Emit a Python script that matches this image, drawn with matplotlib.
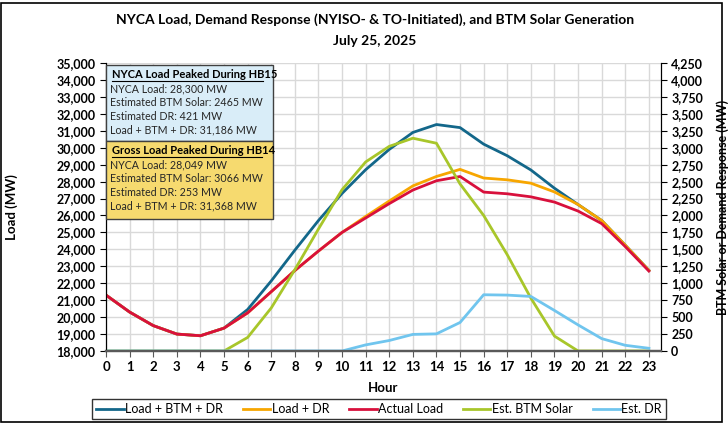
import matplotlib.pyplot as plt
import matplotlib.ticker as mticker
from matplotlib.patches import Rectangle
import numpy as np

plt.rcParams['font.family'] = ['Lato', 'DejaVu Sans']

hours = list(range(24))
actual_load = [21300, 20300, 19500, 19000, 18900, 19350, 20250, 21500, 22750, 23900, 25000, 25850,
               26700, 27500, 28049, 28300, 27380, 27280, 27100, 26790, 26260, 25520, 24160, 22720]
load_dr = [21300, 20300, 19500, 19000, 18900, 19350, 20250, 21500, 22750, 23900, 25000, 25940,
           26855, 27745, 28302, 28721, 28210, 28105, 27905, 27388, 26645, 25703, 24244, 22760]
load_btm_dr = [21300, 20300, 19500, 19000, 18900, 19350, 20450, 22135, 23950, 25700, 27300, 28700,
               29900, 30900, 31368, 31186, 30210, 29525, 28685, 27608, 26645, 25703, 24244, 22760]
btm_solar = [0, 0, 0, 0, 0, 0, 200, 635, 1200, 1800, 2380, 2790,
             3020, 3140, 3066, 2465, 2000, 1420, 780, 220, 0, 0, 0, 0]
est_dr = [0, 0, 0, 0, 0, 0, 0, 0, 0, 0, 0, 90,
          155, 245, 253, 421, 830, 825, 805, 598, 385, 183, 84, 40]

box1_title = 'NYCA Load Peaked During HB15'
box1_lines = ['NYCA Load: 28,300 MW', 'Estimated BTM Solar: 2465 MW',
              'Estimated DR: 421 MW', 'Load + BTM + DR: 31,186 MW']
box2_title = 'Gross Load Peaked During HB14'
box2_lines = ['NYCA Load: 28,049 MW', 'Estimated BTM Solar: 3066 MW',
              'Estimated DR: 253 MW', 'Load + BTM + DR: 31,368 MW']

c_blue = '#13678A'
c_orange = '#F7A600'
c_red = '#D8103C'
c_green = '#A8C62A'
c_light = '#70C5EE'

fig = plt.figure(figsize=(7.28, 4.23), dpi=100)
ax = fig.add_axes([106/728, 1-351/423, (660.7-106)/728, (351-63)/423])
ax2 = ax.twinx()

ax.plot(hours, load_btm_dr, color=c_blue, lw=2, label='Load + BTM + DR', zorder=3)
ax.plot(hours, load_dr, color=c_orange, lw=2, label='Load + DR', zorder=3)
ax.plot(hours, actual_load, color=c_red, lw=2, label='Actual Load', zorder=4)
ax2.plot(hours, btm_solar, color=c_green, lw=2, label='Est. BTM Solar')
ax2.plot(hours, est_dr, color=c_light, lw=2, label='Est. DR')

ax.set_xlim(0, 23.5)
ax.set_ylim(18000, 35000)
ax2.set_ylim(0, 4250)
ax.set_xticks(hours)
ax.set_yticks(np.arange(18000, 35001, 1000))
ax2.set_yticks(np.arange(0, 4251, 250))
ax.yaxis.set_major_formatter(mticker.StrMethodFormatter('{x:,.0f}'))
ax2.yaxis.set_major_formatter(mticker.StrMethodFormatter('{x:,.0f}'))

ax.grid(True, color='#D9D9D9', lw=1)
ax.set_axisbelow(True)
for a in (ax, ax2):
    a.spines['top'].set_visible(False)
    a.spines['left'].set_color('black')
    a.spines['right'].set_color('black')
    a.spines['bottom'].set_color('#595959')
    a.spines['bottom'].set_linewidth(1.6)
ax.tick_params(axis='y', labelsize=9, length=4, direction='out', colors='black')
ax2.tick_params(axis='y', labelsize=9, length=4, direction='out', colors='black')
ax.tick_params(axis='x', labelsize=9.5, length=4, direction='out', color='#595959')
for lab in ax.get_xticklabels() + ax.get_yticklabels() + ax2.get_yticklabels():
    lab.set_fontweight('bold')

ax.set_xlabel('Hour', fontsize=9.5, fontweight='bold', labelpad=6)
ax.set_ylabel('Load (MW)', fontsize=9.5, fontweight='bold')
ax.yaxis.set_label_coords(-0.158, 0.5)
ax2.set_ylabel('BTM Solar or Demand Response (MW)', fontsize=9, fontweight='bold', rotation=90)
ax2.yaxis.set_label_coords(1.1, 0.5)

fig.text(375/728, 1-20/423, 'NYCA Load, Demand Response (NYISO- & TO-Initiated), and BTM Solar Generation',
         ha='center', va='center', fontsize=10, fontweight='bold')
fig.text(375/728, 1-41/423, 'July 25, 2025', ha='center', va='center', fontsize=10, fontweight='bold')


def info_box(y_top, y_bot, color, title, lines):
    x0, x1 = 106/728, 273/728
    fig.patches.append(Rectangle((x0, 1-y_bot/423), x1-x0, (y_bot-y_top)/423,
                                 transform=fig.transFigure, facecolor=color,
                                 edgecolor='#404040', lw=1, zorder=5))
    fig.text(x0 + 6/728, 1-(y_top+10)/423, title, fontsize=8, fontweight='bold',
             va='center', zorder=6)
    for i, t in enumerate(lines):
        fig.text(x0 + 4/728, 1-(y_top+24+i*13.8)/423, t, fontsize=7.7, va='center',
                 color='#262626', zorder=6)


info_box(65, 141, '#D9EDF8', box1_title, box1_lines)
info_box(141, 219, '#F6DA6F', box2_title, box2_lines)
# underline the headings
fig.add_artist(plt.Line2D([112/728, 263/728], [1-81/423, 1-81/423], color='black', lw=0.8, zorder=6))
fig.add_artist(plt.Line2D([112/728, 262/728], [1-157/423, 1-157/423], color='black', lw=0.8, zorder=6))

h1, l1 = ax.get_legend_handles_labels()
h2, l2 = ax2.get_legend_handles_labels()
leg = fig.legend(h1 + h2, l1 + l2, loc='center', bbox_to_anchor=(379/728, 1-409/423), ncol=5,
                 fontsize=9, frameon=True, fancybox=False, edgecolor='black', handlelength=2.2,
                 handletextpad=0.1, columnspacing=1.6, borderpad=0.3)
leg.get_frame().set_linewidth(1)

fig.patches.append(Rectangle((0.002, 0.003), 0.99, 0.99, transform=fig.transFigure,
                             fill=False, edgecolor='black', lw=1.2))

fig.savefig('out.png', dpi=100)
